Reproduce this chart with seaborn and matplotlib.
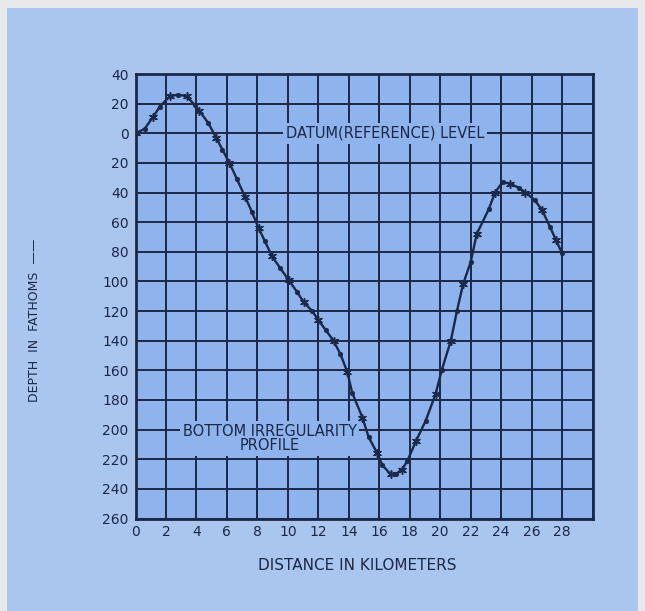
import matplotlib
matplotlib.use("Agg")
import matplotlib.pyplot as plt
from matplotlib.patches import Rectangle
import seaborn as sns
import pandas as pd

# ---- data ----
distance_km = [0.0, 0.6, 1.15, 1.6, 2.25, 2.8, 3.35, 3.9, 4.2, 4.77, 5.3, 5.7,
               6.17, 6.66, 7.2, 7.64, 8.08, 8.5, 8.96, 9.5, 10.05, 10.6, 11.04,
               11.6, 12.0, 12.5, 13.0, 13.45, 13.9, 14.22, 14.9, 15.3, 15.87,
               16.2, 16.74, 17.1, 17.5, 17.85, 18.4, 19.05, 19.7, 20.1, 20.7,
               21.1, 21.5, 22.0, 22.4, 23.2, 23.6, 24.1, 24.6, 25.2, 25.6, 26.2,
               26.7, 27.2, 27.6, 28.0]
# depth in fathoms (negative = above the datum level)
depth_fathoms = [0, -3, -11, -18, -25, -26, -25, -19, -15, -7, 3, 11,
                 20, 31, 43, 53, 64, 73, 83, 91, 99, 107, 114,
                 120, 126, 133, 140, 149, 161, 175, 192, 205, 216,
                 224, 230, 230, 227, 221, 208, 194, 176, 160, 140,
                 120, 102, 87, 68, 51, 40, 33, 34, 37, 40, 45,
                 52, 63, 72, 81]
x_ticks = list(range(0, 31, 2))
x_tick_labels = [str(v) if v <= 28 else "" for v in x_ticks]
y_ticks = list(range(-40, 261, 20))
y_tick_labels = [str(abs(v)) for v in y_ticks]

df = pd.DataFrame({"distance": distance_km, "depth": depth_fathoms})
df["mark"] = ["star" if i % 2 == 0 else "dot" for i in range(len(df))]

# ---- style ----
INK = "#1b2847"
PANEL = "#abc6ee"
PLOT_BG = "#8fb3ec"
BORDER = "#e7e9eb"

sns.set_theme(style="white")
plt.rcParams["font.family"] = ["DejaVu Sans"]

fig = plt.figure(figsize=(6.45, 6.11), dpi=100)
fig.patch.set_facecolor(BORDER)
fig.patches.append(Rectangle((7 / 645, 0), (638 - 7) / 645, 1 - 8 / 611,
                             transform=fig.transFigure, facecolor=PANEL,
                             edgecolor="none", zorder=-5))

ax = fig.add_axes([135.5 / 645, 1 - 518.5 / 611, 457 / 645, 444.5 / 611])
ax.set_zorder(2)
ax.set_facecolor(PLOT_BG)

sns.lineplot(data=df, x="distance", y="depth", ax=ax, color=INK,
             linewidth=1.7, sort=False, estimator=None, zorder=5)
sns.scatterplot(data=df[df["mark"] == "star"], x="distance", y="depth", ax=ax,
                marker=(6, 2, 0), s=30, color=INK, linewidth=1.1, zorder=6)
sns.scatterplot(data=df[df["mark"] == "dot"], x="distance", y="depth", ax=ax,
                marker="o", s=12, color=INK, edgecolor=INK, zorder=6)

ax.set_xlim(0, 30)
ax.set_ylim(260, -40)
ax.set_xticks(x_ticks)
ax.set_xticklabels(x_tick_labels)
ax.set_yticks(y_ticks)
ax.set_yticklabels(y_tick_labels)
ax.grid(True, color=INK, linewidth=1.4)
ax.set_axisbelow(True)
for s in ax.spines.values():
    s.set_color(INK)
    s.set_linewidth(2.0)
ax.tick_params(length=0, colors=INK, labelsize=10, pad=5)
ax.set_xlabel("")
ax.set_ylabel("")

box = dict(facecolor=PLOT_BG, edgecolor="none", pad=2.0)
ax.text(16.4, 0, "DATUM(REFERENCE) LEVEL", ha="center", va="center",
        fontsize=10.5, color=INK, bbox=box, zorder=4)
ax.text(8.8, 206, "BOTTOM IRREGULARITY\nPROFILE", ha="center", va="center",
        fontsize=10.5, color=INK, bbox=box, zorder=4, linespacing=0.95)

fig.text(357 / 645, 1 - 566 / 611, "DISTANCE IN KILOMETERS", ha="center",
         va="center", fontsize=11, color=INK)
fig.text(35 / 645, 1 - 320 / 611, "DEPTH  IN  FATHOMS  ——", ha="center",
         va="center", fontsize=9, color=INK, rotation=90)

fig.savefig("out.png", dpi=100, facecolor=fig.get_facecolor())
